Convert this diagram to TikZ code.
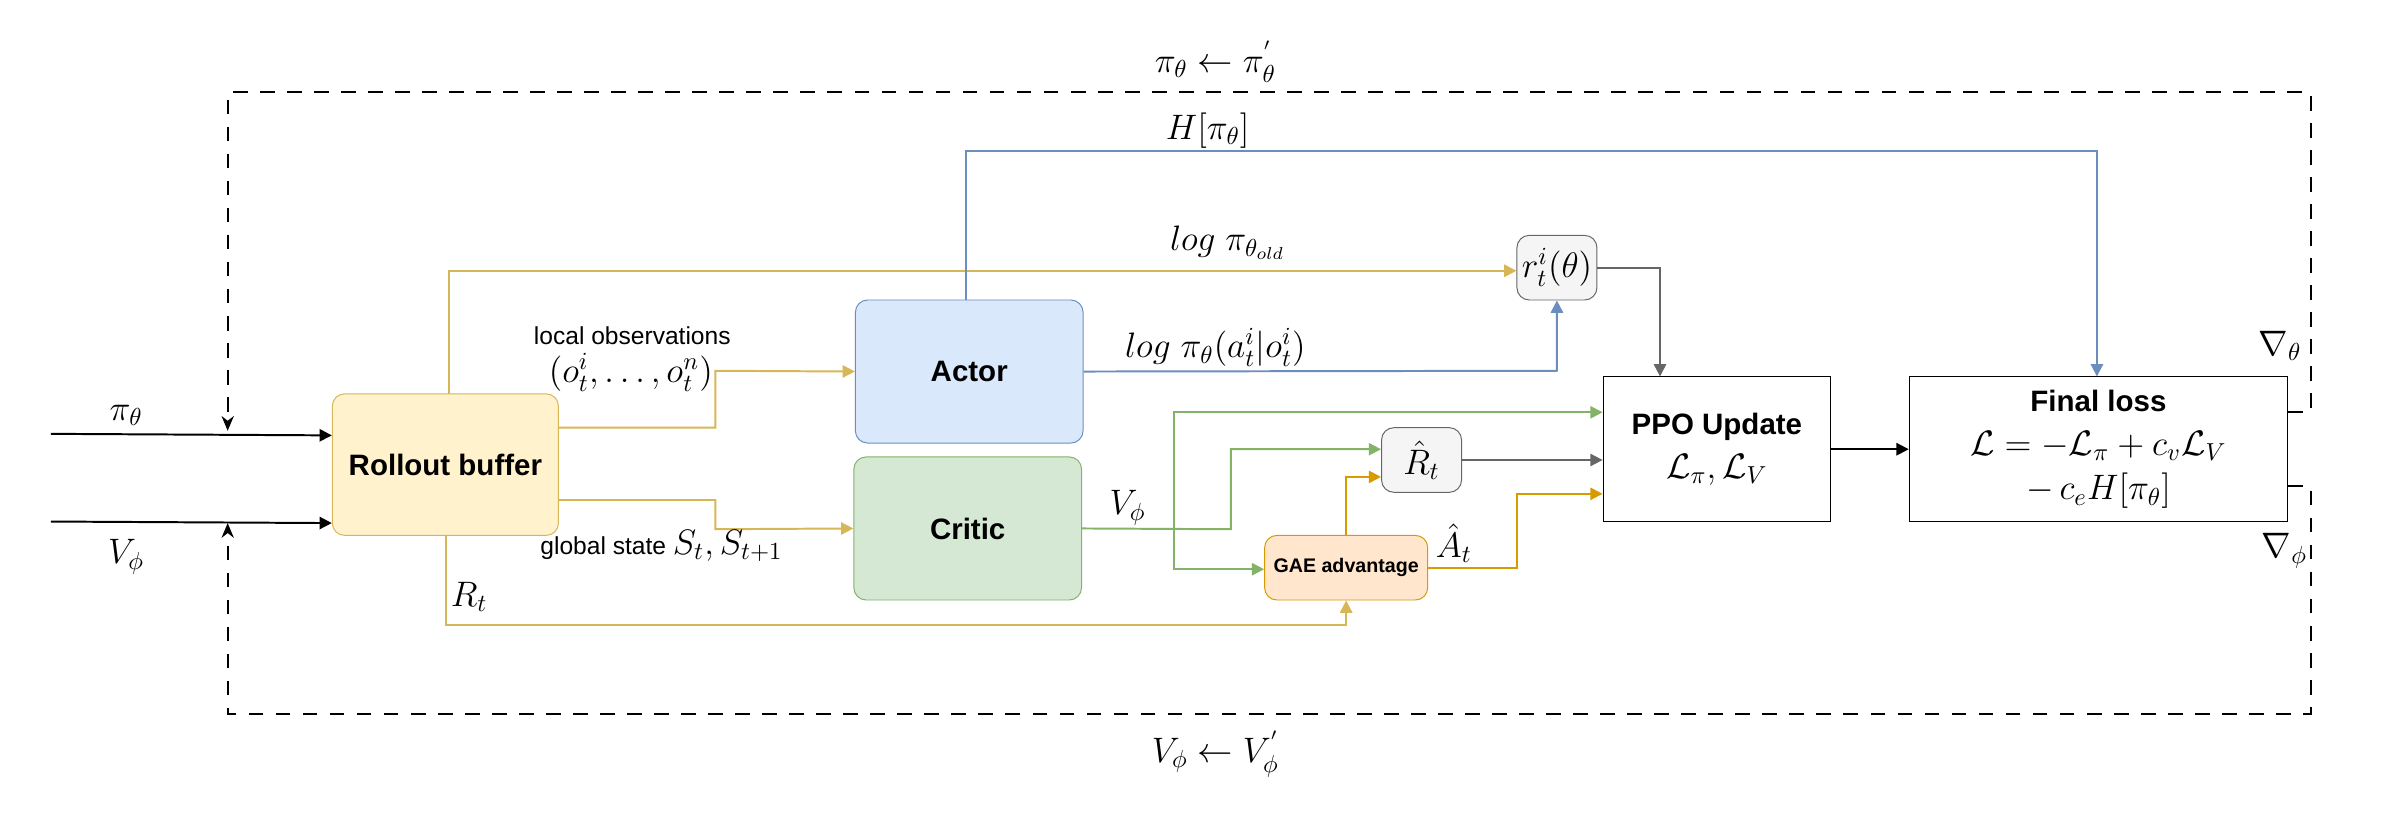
\documentclass[tikz,border=0pt]{standalone}
\usepackage{fontspec}
\setmainfont{Liberation Sans}
\usepackage{amsmath}
\usetikzlibrary{arrows.meta}
\definecolor{yfill}{HTML}{FFF2CC}\definecolor{ydraw}{HTML}{D6B656}
\definecolor{bfill}{HTML}{DAE8FC}\definecolor{bdraw}{HTML}{6C8EBF}
\definecolor{gfill}{HTML}{D5E8D4}\definecolor{gdraw}{HTML}{82B366}
\definecolor{sfill}{HTML}{F5F5F5}\definecolor{sdraw}{HTML}{666666}
\definecolor{ofill}{HTML}{FFE6CC}\definecolor{odraw}{HTML}{D79B00}
\begin{document}
\begin{tikzpicture}[x=0.022cm,y=-0.022cm,
  box/.style={rounded corners=5pt,draw,font=\bfseries\large,align=center,inner sep=0},
  arr/.style={-{Triangle[width=5pt,length=5pt]},line width=0.8pt},
  dsh/.style={dash pattern=on 6pt off 5pt,line width=0.7pt,-{Stealth[width=5pt,length=6pt]}},
  lbl/.style={font=\Large}]
\useasboundingbox (0,0) rectangle (1560,528);
% boxes
\node[box,fill=yfill,draw=ydraw,minimum width=147*0.022cm,minimum height=92*0.022cm] (rb) at (289.5,302) {Rollout buffer};
\node[box,fill=bfill,draw=bdraw,minimum width=148*0.022cm,minimum height=93*0.022cm] (actor) at (630,241.5) {Actor};
\node[box,fill=gfill,draw=gdraw,minimum width=148*0.022cm,minimum height=93*0.022cm] (critic) at (629,343.5) {Critic};
\node[box,fill=sfill,draw=sdraw,font=\Large,minimum width=52*0.022cm,minimum height=42*0.022cm] (r) at (1012,174) {$r_t^i(\theta)$};
\node[box,fill=sfill,draw=sdraw,font=\Large,minimum width=52*0.022cm,minimum height=42*0.022cm] (rh) at (924,299) {$\hat{R}_t$};
\node[box,fill=ofill,draw=odraw,font=\bfseries\footnotesize,minimum width=106*0.022cm,minimum height=42*0.022cm] (gae) at (875,369) {GAE advantage};
\node[box,rounded corners=0,draw=black,minimum width=148*0.022cm,minimum height=94*0.022cm] (ppo) at (1116,292) {PPO Update\\[4pt] \Large$\mathcal{L}_\pi,\mathcal{L}_V$};
\node[box,rounded corners=0,draw=black,minimum width=246*0.022cm,minimum height=94*0.022cm] (fl) at (1364,292) {Final loss\\[4pt] \mdseries\Large$\mathcal{L}=-\mathcal{L}_\pi+c_v\mathcal{L}_V$\\[4pt] \mdseries\Large$-\,c_eH[\pi_\theta]$};
% coordinates
\coordinate (inA) at (33,282); \coordinate (inB) at (33,339);
% inputs
\draw[arr] (inA) -- (rb.west|-0,283);
\draw[arr] (inB) -- (rb.west|-0,340);
\node[lbl] at (82,270) {$\pi_\theta$};
\node[lbl] at (82,362) {$V_\phi$};
% dashed loop
\draw[dsh] (fl.east|-0,268) -- (1502,268) -- (1502,60) -- (148,60) -- (148,280);
\draw[dsh] (fl.east|-0,316) -- (1502,316) -- (1502,464) -- (148,464) -- (148,340);
\node[lbl] at (790,40) {$\pi_\theta \leftarrow \pi_\theta^{'}$};
\node[lbl] at (790,490) {$V_\phi \leftarrow V_\phi^{'}$};
\node[lbl] at (1482,225) {$\nabla_\theta$};
\node[lbl] at (1485,358) {$\nabla_\phi$};
% yellow
\draw[arr,ydraw] (292,256) -- (292,176) -- (r.west|-0,176);
\node[lbl] at (798,158) {$log\;\pi_{\theta_{old}}$};
\draw[arr,ydraw] (363,278) -- (465,278) -- (465,241) -- (actor.west);
\node at (411,218) {local observations};
\node[lbl] at (410,242) {$(o_t^i,\ldots,o_t^n)$};
\draw[arr,ydraw] (363,325) -- (465,325) -- (465,344) -- (critic.west);
\node at (430,355) {global state \Large$S_t,S_{t+1}$};
\draw[arr,ydraw] (290,348) -- (290,406) -- (875,406) -- (gae.south);
\node[lbl] at (305,388) {$R_t$};
% blue
\draw[arr,bdraw] (628,195) -- (628,98) -- (1363,98) -- (fl.north-|1363,0);
\node[lbl] at (785,85) {$H[\pi_\theta]$};
\draw[arr,bdraw] (actor.east) -- (1012,241) -- (r.south);
\node[lbl] at (790,226) {$log\;\pi_\theta(a_t^i|o_t^i)$};
% grey
\draw[arr,sdraw] (r.east) -- (1079,174) -- (ppo.north-|1079,0);
\draw[arr,sdraw] (rh.east) -- (ppo.west|-0,299);
% green
\draw[arr,gdraw] (critic.east) -- (800,344) -- (800,292) -- (rh.west|-0,292);
\node[lbl] at (733,330) {$V_\phi$};
\draw[arr,gdraw] (763,344) -- (763,268) -- (ppo.west|-0,268);
\draw[arr,gdraw] (763,344) -- (763,370) -- (gae.west|-0,370);
% orange
\draw[arr,odraw] (gae.north) -- (875,310) -- (rh.west|-0,310);
\draw[arr,odraw] (gae.east) -- (986,369) -- (986,321) -- (ppo.west|-0,321);
\node[lbl] at (945,353) {$\hat{A}_t$};
% black
\draw[arr] (ppo.east) -- (fl.west);
\end{tikzpicture}
\end{document}
